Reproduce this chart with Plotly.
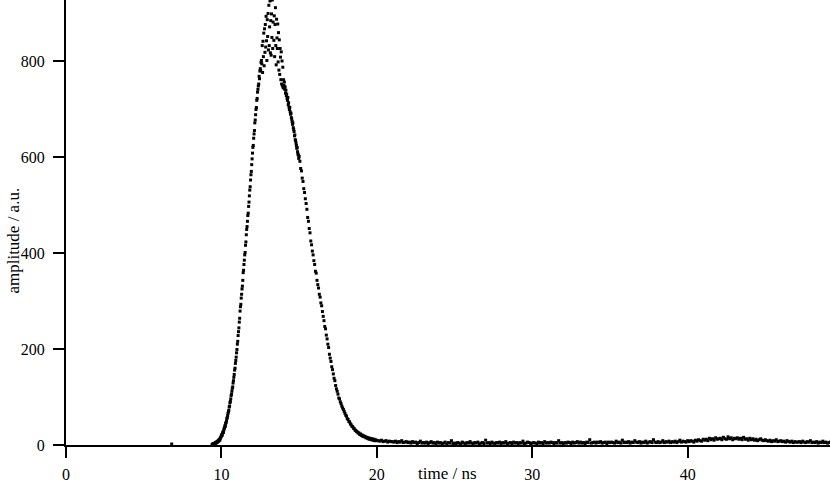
import numpy as np
import plotly.graph_objects as go

# Lone pre-trigger count seen above the baseline
baseline_time = [6.8]
baseline_amp = [2]

# Rising edge and peak, sampled every 0.025 ns from 9.4 ns
rise_start = 9.4
rise_step = 0.025
rise_amp = [
    1, 2, 1, 2, 3, 2, 3, 4,
    3, 5, 4, 6, 5, 7, 6, 8,
    9, 8, 11, 12, 10, 14, 15, 17,
    19, 22, 20, 25, 27, 26, 31, 34,
    36, 40, 39, 45, 47, 50, 55, 57,
    61, 66, 69, 72, 79, 81, 88, 91,
    96, 103, 106, 112, 118, 121, 129, 134,
    141, 147, 156, 160, 170, 176, 183, 192,
    199, 210, 216, 228, 236, 244, 256, 264,
    279, 288, 293, 306, 314, 325, 331, 343,
    359, 364, 376, 385, 396, 401, 416, 423,
    438, 449, 455, 466, 478, 483, 497, 506,
    519, 531, 538, 552, 563, 570, 584, 596,
    608, 620, 624, 639, 648, 655, 671, 677,
    688, 699, 703, 718, 722, 735, 741, 748,
    752, 768, 763, 779, 784, 780, 797, 801,
    794, 832, 776, 841, 809, 858, 790, 867,
    818, 876, 829, 893, 842, 801, 886, 851,
    899, 823, 916, 832, 871, 925, 817, 884,
    812, 898, 849, 927, 826, 881, 934, 843,
    894, 809, 876, 911, 832, 792, 887, 848,
    826, 877, 798, 859, 781, 844, 772, 826,
    808, 761, 819, 752, 800, 748, 787, 744,
    761, 749, 756, 741, 746, 733, 739, 728,
    731, 722, 718, 724, 709, 713, 704, 699,
    703, 694, 689, 691, 682, 679, 674, 668,
    671, 661, 657, 653, 644, 646, 636, 634,
    629, 624, 618, 620, 611, 606, 604, 597,
    601,
]

# Falling edge, sampled every 0.05 ns from 15.05 ns
fall_start = 15.05
fall_step = 0.05
fall_amp = [
    591, 576, 571, 556, 549, 534, 526, 513,
    503, 491, 474, 466, 451, 442, 425, 417,
    404, 396, 384, 376, 362, 358, 343, 334,
    327, 314, 308, 296, 290, 278, 268, 259,
    247, 242, 229, 221, 210, 203, 189, 181,
    174, 163, 157, 148, 139, 134, 124, 117,
    112, 106, 98, 96, 90, 86, 81, 77,
    74, 70, 66, 62, 60, 55, 53, 49,
    48, 44, 42, 39, 38, 35, 34, 31,
    30, 28, 27, 25, 25, 22, 23, 20,
    21, 18, 19, 17, 18, 15, 16, 14,
    15, 12, 14, 13, 11, 13, 10, 12,
    9, 11, 10, 9,
]

# Tail with the small late bump, sampled every 0.1 ns from 20.1 ns
tail_start = 20.1
tail_step = 0.1
tail_amp = [
    9, 8, 10, 7, 8, 9, 6, 8, 7, 7,
    6, 8, 5, 7, 6, 9, 5, 6, 7, 5,
    6, 4, 7, 5, 6, 3, 5, 8, 4, 5,
    4, 6, 3, 5, 7, 4, 5, 3, 6, 4,
    5, 3, 4, 6, 2, 5, 4, 9, 3, 4,
    3, 5, 4, 2, 6, 4, 3, 5, 4, 7,
    4, 3, 5, 4, 6, 2, 4, 5, 3, 10,
    4, 5, 3, 6, 4, 3, 5, 4, 6, 3,
    5, 4, 7, 3, 4, 5, 2, 6, 4, 5,
    3, 5, 4, 8, 3, 4, 6, 5, 3, 4,
    5, 4, 3, 6, 4, 5, 3, 7, 4, 5,
    4, 6, 5, 3, 5, 4, 9, 4, 5, 3,
    5, 4, 6, 5, 3, 6, 4, 5, 7, 4,
    6, 4, 5, 3, 6, 5, 11, 4, 5, 6,
    4, 6, 5, 7, 4, 5, 6, 3, 6, 5,
    6, 5, 4, 8, 5, 6, 4, 10, 5, 6,
    5, 7, 4, 6, 5, 9, 6, 5, 7, 4,
    6, 5, 8, 4, 6, 7, 5, 11, 6, 5,
    7, 5, 6, 9, 5, 7, 6, 8, 5, 7,
    6, 8, 5, 7, 10, 6, 8, 7, 6, 9,
    7, 9, 8, 6, 10, 8, 11, 9, 8, 12,
    10, 12, 9, 14, 11, 13, 10, 15, 12, 13,
    14, 11, 16, 13, 12, 17, 13, 15, 11, 14,
    13, 15, 12, 14, 11, 16, 12, 13, 10, 14,
    11, 13, 10, 12, 9, 11, 13, 10, 9, 11,
    9, 8, 10, 7, 9, 8, 11, 7, 8, 9,
    7, 8, 6, 9, 7, 6, 8, 5, 7, 6,
    6, 7, 5, 8, 6, 5, 7, 6, 9, 5,
    6, 5, 7, 4, 6, 5, 8, 5, 6, 4,
    5, 6,
]

x_ticks = [0, 10, 20, 30, 40]
y_ticks = [0, 200, 400, 600, 800]

# Build the time axis for each sampled segment from its step
segments = [
    (rise_start, rise_step, rise_amp),
    (fall_start, fall_step, fall_amp),
    (tail_start, tail_step, tail_amp),
]
time_ns = np.concatenate([baseline_time] + [start + step * np.arange(len(amp)) for start, step, amp in segments])
amplitude = np.concatenate([baseline_amp] + [amp for _, _, amp in segments]).astype(float)

font_name = "Liberation Serif"

fig = go.Figure()
fig.add_trace(go.Scatter(
    x=time_ns,
    y=amplitude,
    mode="markers",
    marker=dict(color="black", size=3, symbol="square", line=dict(width=0)),
    showlegend=False,
))

axis_style = dict(
    showline=True,
    linecolor="black",
    linewidth=2,
    ticks="outside",
    ticklen=11,
    tickwidth=2,
    tickcolor="black",
    showgrid=False,
    zeroline=False,
    tickfont=dict(family=font_name, size=16, color="black"),
)

fig.update_xaxes(range=[0, 49.16], tickvals=x_ticks, ticklabelstandoff=3, **axis_style)
fig.update_yaxes(range=[0, 927], tickvals=y_ticks, ticklabelstandoff=5, **axis_style)

# Axis titles placed where the original puts them
fig.add_annotation(
    text="amplitude / a.u.", xref="paper", yref="paper",
    x=-0.069, y=0.46, xanchor="center", yanchor="middle",
    textangle=-90, showarrow=False,
    font=dict(family=font_name, size=17, color="black"),
)
fig.add_annotation(
    text="time / ns", xref="paper", yref="paper",
    x=0.499, y=-0.063, xanchor="center", yanchor="middle",
    showarrow=False,
    font=dict(family=font_name, size=17, color="black"),
)

fig.update_layout(
    width=830,
    height=484,
    margin=dict(l=66, r=0, t=0, b=39),
    plot_bgcolor="white",
    paper_bgcolor="white",
)

# Drop the default page margin so the figure sits at the window's corner
fig.write_html(
    "out.html",
    config={"displayModeBar": False},
    post_script="document.body.style.margin = '0';",
)
